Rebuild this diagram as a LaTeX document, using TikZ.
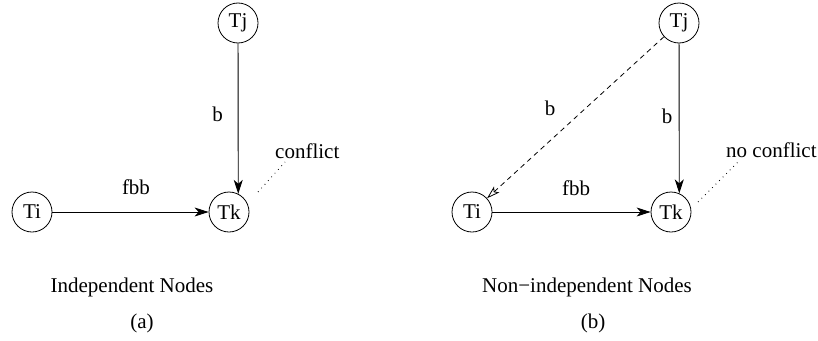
\documentclass[tikz,border=0pt]{standalone}
\usepackage{fontspec}
\setmainfont{Liberation Serif}
\usetikzlibrary{arrows.meta,positioning,calc}
\definecolor{depdiagdark}{RGB}{0,0,0}
\tikzset{
  txn node/.style={
    circle,
    draw=depdiagdark,
    line width=0.8pt,
    minimum size=40pt,
    inner sep=0pt,
    font=\fontsize{21}{25}\selectfont,
  },
  dep arrow/.style={
    -{Stealth[length=14pt,width=9pt,inset=4pt]},
    line width=0.9pt,
    draw=depdiagdark,
  },
}

\begin{document}
\begin{tikzpicture}[x=1pt,y=-1pt]
  \tikzstyle{edgelabel}=[font=\fontsize{21}{25}\selectfont, inner sep=0pt, anchor=base]
  \tikzstyle{openarrow}=[-{Stealth[open,length=13pt,width=8pt,inset=3pt]}, line width=0.8pt, dash pattern=on 5pt off 4pt]
  \tikzstyle{conflictline}=[line width=0.8pt, dash pattern=on 0.8pt off 4.2pt]
  \useasboundingbox (0,0) rectangle (818,340);

  % (a) independent nodes
  \node[txn node] (tia) at (32,212) {Ti};
  \node[txn node] (tka) at (229,212) {Tk};
  \node[txn node] (tja) at (238,23) {Tj};

  \draw[dep arrow] (tia) -- (tka);
  \draw[dep arrow] (tja) -- (tka.63);
  \node[edgelabel] (fbba) at (136,194) {fbb};
  \node[edgelabel] (ba) at (217.5,121) {b};

  \node[edgelabel, anchor=base west] (conflicta) at (275,158) {conflict};
  \coordinate (conflictfoota) at (258,192);
  \draw[conflictline] (conflictfoota) -- ($(conflicta.base west)+(10,4)$);

  \node[edgelabel] (captiona) at (132,292.5) {Independent Nodes};
  \node[edgelabel] (taga) at (142,328) {(a)};

  % (b) non-independent nodes
  \node[txn node] (tib) at (472,212) {Ti};
  \node[txn node] (tkb) at (671,212) {Tk};
  \node[txn node] (tjb) at (679,23) {Tj};

  \draw[dep arrow] (tib) -- (tkb);
  \draw[dep arrow] (tjb) -- (tkb.66);
  \draw[openarrow] (tjb) -- (tib);
  \node[edgelabel] (fbbb) at (576,195) {fbb};
  \node[edgelabel] (bb) at (667,123) {b};
  \node[edgelabel] (bdiag) at (550,115) {b};

  \node[edgelabel, anchor=base west] (conflictb) at (726,157) {no conflict};
  \coordinate (conflictfootb) at (698,202);
  \draw[conflictline] (conflictfootb) -- ($(conflictb.base west)+(14,3)$);

  \node[edgelabel] (captionb) at (587,292.5) {Non−independent Nodes};
  \node[edgelabel] (tagb) at (593,328) {(b)};
\end{tikzpicture}
\end{document}
